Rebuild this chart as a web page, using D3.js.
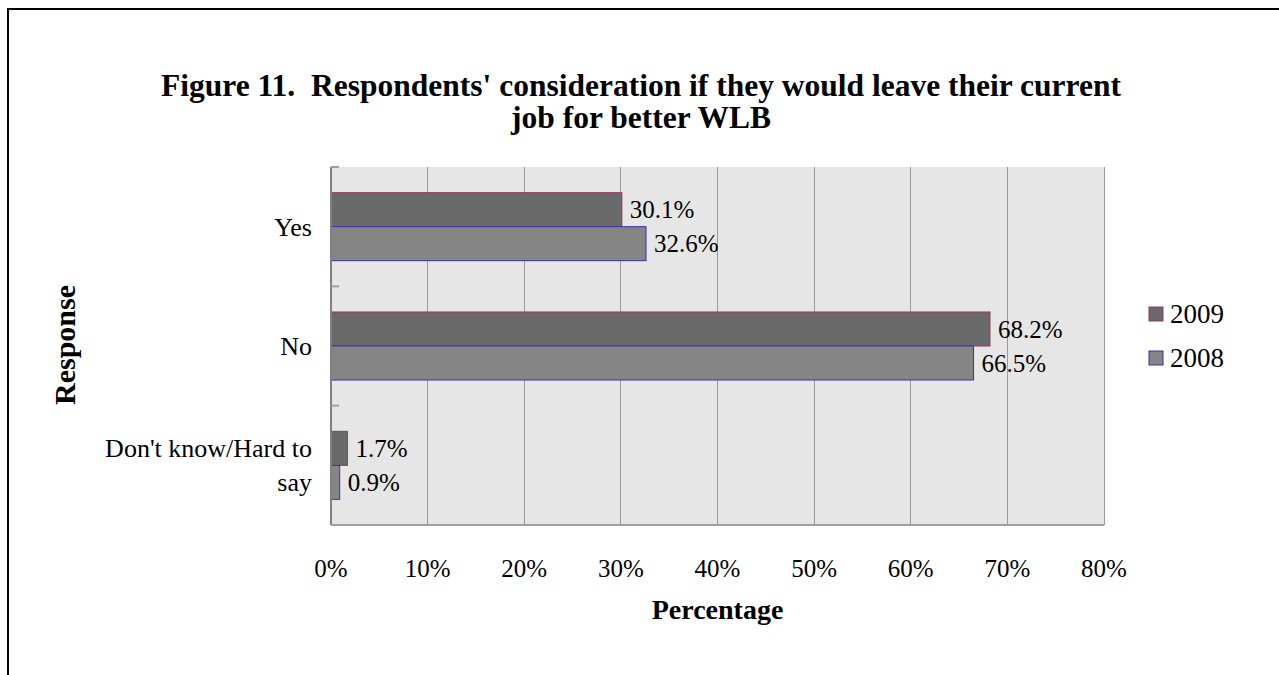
<!DOCTYPE html>
<html>
<head>
<meta charset="utf-8">
<script src="https://cdn.jsdelivr.net/npm/d3@7"></script>
<style>
  html, body { margin: 0; padding: 0; background: #fff; }
  svg { display: block; }
  text { font-family: "Liberation Serif", "Times New Roman", serif; fill: #000; white-space: pre; }
</style>
</head>
<body>
<script>
// Survey results: would respondents leave their current job for better WLB
const categories = ["Yes", "No", "Don't know/Hard to say"];
const categoryLines = [["Yes"], ["No"], ["Don't know/Hard to", "say"]];
const seriesNames = ["2009", "2008"];
const values2009 = [30.1, 68.2, 1.7];
const values2008 = [32.6, 66.5, 0.9];
const xTicks = [0, 10, 20, 30, 40, 50, 60, 70, 80];
const titleLines = ["Figure 11.  Respondents' consideration if they would leave their current", "job for better WLB"];

const W = 1279, H = 675;
const plot = { left: 331, right: 1104, top: 167, bottom: 525 };

const fills = { "2009": "#6a6a6a", "2008": "#858585" };
const strokes = { "2009": "#993366", "2008": "#3333aa" };

const svg = d3.select("body").append("svg").attr("width", W).attr("height", H);

// outer frame
svg.append("rect")
  .attr("x", 8).attr("y", 9).attr("width", W + 20).attr("height", H + 20)
  .attr("fill", "none").attr("stroke", "#000").attr("stroke-width", 2);

// title
svg.append("g").selectAll("text").data(titleLines).join("text")
  .attr("x", 641).attr("y", (d, i) => 96 + i * 32)
  .attr("text-anchor", "middle")
  .style("font-size", "31.5px").style("font-weight", "bold")
  .text(d => d);

const x = d3.scaleLinear().domain([0, 80]).range([plot.left, plot.right]);
const gap = 0.43;
const y0 = d3.scaleBand().domain(categories).range([plot.top, plot.bottom])
  .paddingInner(gap).paddingOuter(gap / 2);
const y1 = d3.scaleBand().domain(seriesNames).range([0, y0.bandwidth()]);

// plot background
svg.append("rect")
  .attr("x", plot.left).attr("y", plot.top)
  .attr("width", plot.right - plot.left).attr("height", plot.bottom - plot.top)
  .attr("fill", "#e6e6e6");

// vertical gridlines
svg.append("g").selectAll("line").data(xTicks.slice(1)).join("line")
  .attr("x1", d => x(d)).attr("x2", d => x(d))
  .attr("y1", plot.top).attr("y2", plot.bottom)
  .attr("stroke", "#9a9a9a").attr("stroke-width", 1)
  .attr("shape-rendering", "crispEdges");

// bars
const rows = categories.map((c, i) => ({ cat: c, vals: [
  { s: "2009", v: values2009[i] }, { s: "2008", v: values2008[i] } ] }));

const grp = svg.append("g").selectAll("g").data(rows).join("g")
  .attr("transform", d => `translate(0,${y0(d.cat)})`);

grp.selectAll("rect").data(d => d.vals).join("rect")
  .attr("x", x(0)).attr("y", d => y1(d.s))
  .attr("width", d => x(d.v) - x(0)).attr("height", y1.bandwidth())
  .attr("fill", d => fills[d.s]).attr("stroke", d => strokes[d.s]).attr("stroke-width", 1);

grp.selectAll("text").data(d => d.vals).join("text")
  .attr("x", d => x(d.v) + 8).attr("y", d => y1(d.s) + y1.bandwidth() / 2)
  .attr("dy", "0.35em")
  .style("font-size", "25px")
  .text(d => d.v.toFixed(1) + "%");

// left axis line and inward ticks
const catEdges = [plot.top, ...categories.map(c => y0(c) + y0.bandwidth() + y0.step() * y0.paddingInner() / 2)];
svg.append("line")
  .attr("x1", plot.left).attr("x2", plot.left).attr("y1", plot.top).attr("y2", plot.bottom)
  .attr("stroke", "#808080").attr("stroke-width", 2);
svg.append("g").selectAll("line").data(catEdges.slice(0, -1)).join("line")
  .attr("x1", plot.left).attr("x2", plot.left + 8)
  .attr("y1", d => d).attr("y2", d => d)
  .attr("stroke", "#a0a0a0").attr("stroke-width", 2);

// bottom axis line
svg.append("line")
  .attr("x1", plot.left).attr("x2", plot.right).attr("y1", plot.bottom).attr("y2", plot.bottom)
  .attr("stroke", "#a0a0a0").attr("stroke-width", 2);

// x tick labels
svg.append("g").selectAll("text").data(xTicks).join("text")
  .attr("x", d => x(d)).attr("y", 577)
  .attr("text-anchor", "middle")
  .style("font-size", "25px")
  .text(d => d + "%");

// category labels
const catG = svg.append("g").selectAll("g").data(categories).join("g");
catG.each(function(c, i) {
  const lines = categoryLines[i];
  const cy = y0(c) + y0.bandwidth() / 2;
  d3.select(this).selectAll("text").data(lines).join("text")
    .attr("x", 312)
    .attr("y", (d, j) => cy + (j - (lines.length - 1) / 2) * 34)
    .attr("dy", "0.35em")
    .attr("text-anchor", "end")
    .style("font-size", "26px")
    .text(d => d);
});

// axis titles
svg.append("text")
  .attr("x", x(40)).attr("y", 619)
  .attr("text-anchor", "middle")
  .style("font-size", "28px").style("font-weight", "bold")
  .text("Percentage");
svg.append("text")
  .attr("transform", "translate(75,345) rotate(-90)")
  .attr("text-anchor", "middle")
  .style("font-size", "30px").style("font-weight", "bold")
  .text("Response");

// legend
const leg = svg.append("g").selectAll("g").data(seriesNames).join("g")
  .attr("transform", (d, i) => `translate(1149,${307 + i * 44})`);
leg.append("rect").attr("width", 14).attr("height", 14)
  .attr("fill", d => fills[d]).attr("stroke", d => strokes[d]).attr("stroke-width", 1);
leg.append("text").attr("x", 21).attr("y", 7).attr("dy", "0.35em")
  .style("font-size", "27px").text(d => d);
</script>
</body>
</html>
